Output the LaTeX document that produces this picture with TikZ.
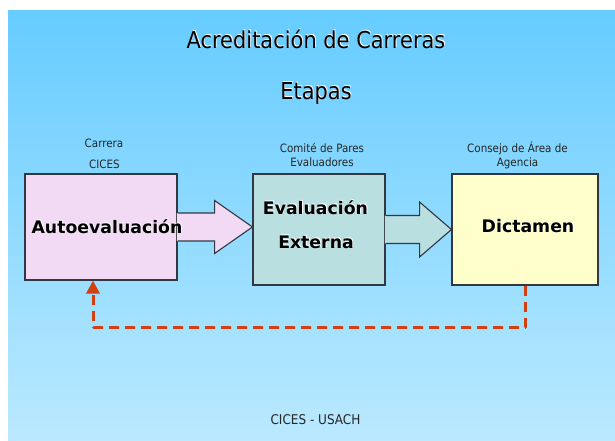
\documentclass[tikz,border=0pt]{standalone}
\usepackage{fontspec}
\setmainfont{DejaVu Sans}
\newfontfamily\tah{DejaVu Sans Condensed}
\usetikzlibrary{arrows.meta,calc}
\definecolor{bgtop}{RGB}{102,204,255}
\definecolor{bgbot}{RGB}{187,233,255}
\definecolor{pinkbox}{RGB}{242,218,245}
\definecolor{tealbox}{RGB}{185,223,224}
\definecolor{yellbox}{RGB}{255,255,204}
\definecolor{edge}{RGB}{50,55,65}
\definecolor{dashred}{RGB}{210,64,16}
\tikzset{
  boxshape/.style={draw=edge,line width=1.1pt,inner sep=0pt},
  arrowedge/.style={draw=edge,line width=1.1pt,line join=miter},
  bigtext/.style={font=\bfseries\fontsize{17.3}{20}\selectfont,inner sep=0pt,align=center},
  smalltext/.style={font=\tah\fontsize{11.5}{14}\selectfont,inner sep=0pt,align=center,text=black!85},
  foottext/.style={font=\tah\fontsize{13.4}{16}\selectfont,inner sep=0pt,text=black!85},
  titletext/.style={font=\tah\fontsize{23.3}{28}\selectfont,inner sep=0pt},
  feedback/.style={draw=dashred,line width=3pt,dash pattern=on 10pt off 6pt,line join=round,
    -{Triangle[length=13pt,width=13pt]}},
}
\newcommand{\shadowtext}[3]{%
  \node[#1,text=white] at ([shift={(0.8pt,0.8pt)}]#2) {#3};
}
\begin{document}
\begin{tikzpicture}[x=1pt,y=-1pt]
\useasboundingbox (0,0) rectangle (615,441);
\fill[white] (0,0) rectangle (615,441);
\shade[top color=bgtop,bottom color=bgbot] (8,11) rectangle (615,441);

% titles
\coordinate (tpos) at (316,39);
\coordinate (epos) at (316,93);
\shadowtext{titletext}{tpos}{Acreditación de Carreras}
\node[titletext] (title) at (tpos) {Acreditación de Carreras};
\shadowtext{titletext}{epos}{Etapas}
\node[titletext] (etapas) at (epos) {Etapas};

% boxes
\node[boxshape,fill=pinkbox,minimum width=152pt,minimum height=106pt] (A) at (101,227) {};
\node[boxshape,fill=tealbox,minimum width=132pt,minimum height=111pt] (B) at (319,229.5) {};
\node[boxshape,fill=yellbox,minimum width=146pt,minimum height=111pt] (C) at (525,229.5) {};

% arrow 1 (A -> B)
\coordinate (a1) at ($(A.east)+(-0.8,-14)$);
\coordinate (a2) at ($(A.east)+(37,-14)$);
\coordinate (a3) at ($(A.east)+(37,-26.5)$);
\coordinate (a4) at (A.east -| B.west);
\coordinate (a5) at ($(A.east)+(37,26.5)$);
\coordinate (a6) at ($(A.east)+(37,14)$);
\coordinate (a7) at ($(A.east)+(-0.8,14)$);
\fill[pinkbox] (a1) -- (a2) -- (a3) -- (a4) -- (a5) -- (a6) -- (a7) -- cycle;
\draw[arrowedge] ($(a1)+(0.8,0)$) -- (a2) -- (a3) -- (a4) -- (a5) -- (a6) -- ($(a7)+(0.8,0)$);

% arrow 2 (B -> C)
\coordinate (b1) at ($(B.east)+(-0.8,-14)$);
\coordinate (b2) at ($(B.east)+(34,-14)$);
\coordinate (b3) at ($(B.east)+(34,-27.5)$);
\coordinate (b4) at (C.west);
\coordinate (b5) at ($(B.east)+(34,27.5)$);
\coordinate (b6) at ($(B.east)+(34,14)$);
\coordinate (b7) at ($(B.east)+(-0.8,14)$);
\fill[tealbox] (b1) -- (b2) -- (b3) -- (b4) -- (b5) -- (b6) -- (b7) -- cycle;
\draw[arrowedge] ($(b1)+(0.8,0)$) -- (b2) -- (b3) -- (b4) -- (b5) -- (b6) -- ($(b7)+(0.8,0)$);

% box texts
\coordinate (ta) at (107,226.5);
\shadowtext{bigtext}{ta}{Autoevaluación}
\node[bigtext] (tA) at (ta) {Autoevaluación};
\coordinate (tb1) at (315.5,208);
\coordinate (tb2) at (316,242);
\shadowtext{bigtext}{tb1}{Evaluación}
\node[bigtext] (tB1) at (tb1) {Evaluación};
\shadowtext{bigtext}{tb2}{Externa}
\node[bigtext] (tB2) at (tb2) {Externa};
\coordinate (tc) at (528,226.5);
\shadowtext{bigtext}{tc}{Dictamen}
\node[bigtext] (tC) at (tc) {Dictamen};

% small labels
\node[smalltext] (l1) at (104,143) {Carrera};
\node[smalltext] (l2) at (104.5,164) {CICES};
\node[smalltext] (l3) at (322,155) {Comité de Pares\\Evaluadores};
\node[smalltext] (l4) at (517.5,155) {Consejo de Área de\\Agencia};
\node[foottext] (foot) at (315.5,420) {CICES - USACH};

% feedback dashed connector
\coordinate (Ain) at ([xshift=-8pt]A.south);
\draw[feedback] (C.south) -- ++(0,41.5) -| (Ain);
\end{tikzpicture}
\end{document}
